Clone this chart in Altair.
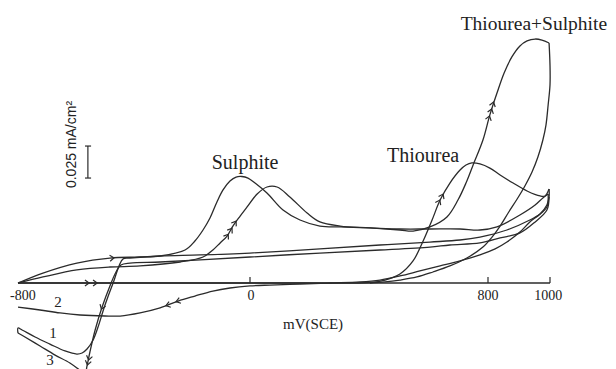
import altair as alt
import pandas as pd

# Potential E in mV vs SCE, current density j in uA/cm^2
sulphite_fwd_mv = [-800, -714, -597, -483, -379, -310, -224, -190, -162, -138, -114, -93, -69, -48, -28, -7, 17, 57, 111, 168, 235, 303, 403, 504, 605, 706, 773, 829, 903, 952, 977, 994]
sulphite_fwd_ua = [0, 7.8, 15.6, 19.5, 20.3, 21.1, 25.8, 32.8, 41.4, 50.8, 63.3, 72.7, 79.7, 82.8, 83.2, 82.0, 78.1, 70.3, 57.0, 49.2, 44.5, 43.8, 43.0, 42.2, 42.2, 42.2, 41.4, 43.8, 53.1, 60.9, 66.4, 69.5]

curve1_mv = [994, 994, 990, 968, 935, 861, 773, 706, 605, 437, 235, 0, -172, -310, -414, -438, -472, -500, -524, -541, -562, -579, -597, -638, -690, -741, -786, -800, -800]
curve1_ua = [69.5, 64.8, 59.4, 53.9, 49.2, 41.4, 35.9, 33.6, 32.0, 29.7, 26.6, 23.4, 21.9, 21.1, 19.5, 18.8, 0, -17.2, -34.4, -44.5, -51.6, -54.7, -55.5, -53.1, -47.7, -42.2, -36.7, -35.2, -39.1]

curve3_mv = [997, 990, 952, 903, 839, 773, 672, 605, 437, 235, 0, -172, -310, -414, -445, -462, -483, -510, -534, -552, -562, -569, -583, -621, -672, -724, -776, -800]
curve3_ua = [67.2, 57.0, 47.7, 39.1, 35.2, 31.3, 29.7, 28.1, 25.8, 23.4, 20.3, 18.0, 16.4, 15.6, 14.1, 8.6, -2.3, -18.8, -36.7, -53.9, -64.8, -71.1, -68.8, -62.5, -56.3, -49.2, -42.2, -39.1]

mix_fwd_mv = [-800, -714, -597, -483, -379, -241, -162, -128, -103, -79, -59, -34, -10, 24, 57, 91, 134, 192, 235, 303, 403, 504, 548, 605, 662, 699, 726, 750, 783, 806, 829, 852, 877, 903, 926, 952, 974, 997]
mix_fwd_ua = [0, 4.7, 10.2, 12.5, 13.3, 16.4, 20.3, 25.8, 31.3, 36.7, 44.5, 52.3, 59.4, 69.5, 75.0, 75.0, 67.2, 54.7, 47.7, 44.5, 43.0, 41.4, 40.6, 43.8, 51.6, 64.8, 78.1, 92.2, 111.7, 131.3, 148.4, 164.1, 176.6, 185.2, 189.1, 190.6, 189.8, 187.5]

mix_rev_mv = [997, 1000, 1000, 994, 987, 977, 961, 942, 919, 894, 865, 839, 813, 783, 729, 672, 615, 561, 504, 454, 403]
mix_rev_ua = [187.5, 170.3, 154.7, 139.1, 123.4, 111.7, 98.4, 86.7, 75.8, 65.6, 54.7, 44.5, 35.9, 28.1, 19.5, 13.3, 8.6, 4.7, 2.3, 0.8, 0]

thio_fwd_mv = [-800, -517, -172, 168, 403, 454, 504, 548, 582, 612, 639, 672, 706, 726, 746, 773, 806, 839, 881, 926, 968, 984, 997]
thio_fwd_ua = [0, 0, 0, 0, 0.4, 2.3, 7.0, 17.2, 32.8, 49.2, 64.8, 78.1, 88.3, 92.2, 93.8, 93.0, 89.8, 84.4, 78.1, 71.9, 68.0, 68.0, 73.4]

curve2_mv = [997, 997, 990, 968, 935, 903, 861, 823, 773, 706, 639, 571, 504, 437, 370, 269, 168, 67, 0, -69, -128, -190, -248, -310, -379, -448, -500, -586, -655, -724, -800]
curve2_ua = [73.4, 67.2, 60.9, 53.9, 47.7, 39.8, 32.0, 26.6, 21.9, 17.2, 13.3, 9.4, 5.5, 2.3, 0.8, 0, -0.8, -1.6, -2.3, -3.9, -6.3, -10.2, -14.1, -19.5, -23.4, -25.8, -25.8, -25.0, -23.4, -21.1, -18.8]

# Scan direction arrows on the curves: potential, current, direction (deg)
arrow_mv = [-476, -562, -534, -283, -248, -510, -555, -559, -79, -66, -52, 803, 810, 816, 635, 646]
arrow_ua = [19.5, 0, 0, -17.2, -14.1, -18.8, -58.6, -62.5, 36.7, 41.4, 46.9, 128.9, 134.4, 139.8, 63.3, 68.0]
arrow_dir = [354, 0, 0, 163, 163, 111, 102, 102, 304, 304, 304, 287, 287, 287, 296, 296]

# Axis ticks and labels
tick_mv = [0, 800, 1000]
tick_labels = ["-800", "0", "800", "1000"]
tick_label_mv = [-783, 3, 800, 994]

series = [
    ("sulphite_fwd", sulphite_fwd_mv, sulphite_fwd_ua),
    ("curve1", curve1_mv, curve1_ua),
    ("curve3", curve3_mv, curve3_ua),
    ("mix_fwd", mix_fwd_mv, mix_fwd_ua),
    ("mix_rev", mix_rev_mv, mix_rev_ua),
    ("thio_fwd", thio_fwd_mv, thio_fwd_ua),
    ("curve2", curve2_mv, curve2_ua),
]
rows = []
for name, xs_, ys_ in series:
    for i, (x, y) in enumerate(zip(xs_, ys_)):
        rows.append({"series": name, "i": i, "E": x, "j": y})
df = pd.DataFrame(rows)

xs = alt.Scale(domain=[-800, 0, 800, 1000], range=[10, 242, 480, 542], nice=False, zero=False)
ys = alt.Scale(domain=[0, 100], range=[275, 147], nice=False, zero=False)

INK = "#2b2b2b"
SERIF = "Liberation Serif"


def X(f="E"):
    return alt.X(f"{f}:Q", scale=xs, axis=None)


def Y(f="j"):
    return alt.Y(f"{f}:Q", scale=ys, axis=None)


lines = alt.Chart(df).mark_line(interpolate="catmull-rom", color=INK, strokeWidth=1.3).encode(
    x=X(), y=Y(), detail="series:N", order="i:Q"
)

axis_df = pd.DataFrame({"E": [-800], "E2": [1000], "j": [0]})
axis_line = alt.Chart(axis_df).mark_rule(color=INK, strokeWidth=1.3).encode(
    x=X(), x2="E2:Q", y=Y()
)

tick_df = pd.DataFrame({"E": tick_mv, "j": [0] * len(tick_mv), "j2": [4.7] * len(tick_mv)})
ticks = alt.Chart(tick_df).mark_rule(color=INK, strokeWidth=1.2).encode(
    x=X(), y=Y(), y2="j2:Q"
)

tl_df = pd.DataFrame({"E": tick_label_mv, "j": [-10.5] * 4, "t": tick_labels})
tick_text = alt.Chart(tl_df).mark_text(font=SERIF, fontSize=14, color="#222", baseline="middle").encode(
    x=X(), y=Y(), text="t:N"
)

arr_df = pd.DataFrame({"E": arrow_mv, "j": arrow_ua, "a": arrow_dir})
arrows = alt.Chart(arr_df).mark_point(
    shape="M -0.7 -1 L 0.7 0 L -0.7 1", filled=False, color=INK, strokeWidth=1.2, size=36, opacity=1
).encode(x=X(), y=Y(), angle=alt.Angle("a:Q", scale=None))

big_df = pd.DataFrame({
    "E": [-17, 582],
    "j": [94.1, 99.2],
    "t": ["Sulphite", "Thiourea"],
})
big_text = alt.Chart(big_df).mark_text(font=SERIF, fontSize=20, color="#222", baseline="middle").encode(
    x=X(), y=Y(), text="t:N"
)
mix_df = pd.DataFrame({"E": [948], "j": [202.3], "t": ["Thiourea+Sulphite"]})
mix_text = alt.Chart(mix_df).mark_text(font=SERIF, fontSize=19.5, color="#222", baseline="middle").encode(
    x=X(), y=Y(), text="t:N"
)

xlab_df = pd.DataFrame({"E": [212], "j": [-32.0], "t": ["mV(SCE)"]})
xlab = alt.Chart(xlab_df).mark_text(font=SERIF, fontSize=15, color="#222", baseline="middle").encode(
    x=X(), y=Y(), text="t:N"
)

num_df = pd.DataFrame({"E": [-679, -662, -690], "j": [-39.1, -14.8, -60.5], "t": ["1", "2", "3"]})
nums = alt.Chart(num_df).mark_text(font=SERIF, fontSize=15, color="#222", baseline="middle").encode(
    x=X(), y=Y(), text="t:N"
)

# 0.025 mA/cm^2 scale bar
bar_df = pd.DataFrame({"E": [-559], "j": [82.0], "j2": [107.0]})
bar = alt.Chart(bar_df).mark_rule(color=INK, strokeWidth=1.2).encode(x=X(), y=Y(), y2="j2:Q")
cap_df = pd.DataFrame({"E": [-569, -569], "E2": [-548, -548], "j": [82.0, 107.0]})
caps = alt.Chart(cap_df).mark_rule(color=INK, strokeWidth=1.2).encode(x=X(), x2="E2:Q", y=Y())
sb_df = pd.DataFrame({"E": [-614], "j": [108.2], "t": ["0.025 mA/cm\u00b2"]})
sb_text = alt.Chart(sb_df).mark_text(font="Liberation Sans", fontSize=14, color="#222", angle=270,
                                     baseline="middle", align="center").encode(x=X(), y=Y(), text="t:N")

chart = alt.layer(
    axis_line, ticks, lines, arrows, tick_text, big_text, mix_text, xlab, nums, bar, caps, sb_text
).properties(
    width=600, height=361,
    padding={"left": 0, "top": 0, "right": 0, "bottom": 0},
    autosize=alt.AutoSizeParams(type="none"),
).configure_view(stroke=None)

chart.save("out.html", embed_options={"renderer": "svg", "actions": False})
